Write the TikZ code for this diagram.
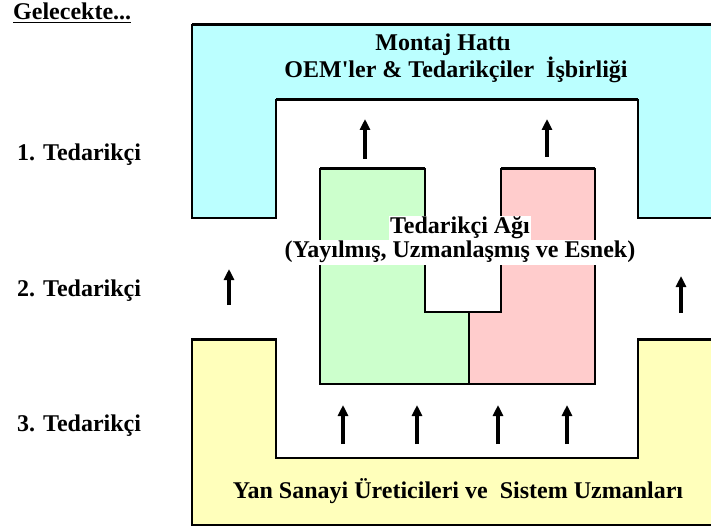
\documentclass[tikz,border=0pt]{standalone}
\usepackage{fontspec}
\setmainfont{Liberation Serif}[Ligatures=TeXOff]
\usetikzlibrary{arrows.meta}
\definecolor{cyanfill}{RGB}{187,255,255}
\definecolor{greenfill}{RGB}{204,255,204}
\definecolor{redfill}{RGB}{255,204,204}
\definecolor{yellowfill}{RGB}{255,255,187}
\begin{document}
\begin{tikzpicture}[x=1bp,y=-1bp,
  txt/.style={font=\fontsize{24bp}{28bp}\selectfont\bfseries, inner sep=0pt},
  outline/.style={draw=black, line width=1.5bp, line join=miter},
  rim/.style={line width=3bp},
  up/.style={line width=3.5bp, -{Triangle[width=10bp,length=11bp]}}
]
\useasboundingbox (0,0) rectangle (711,528);

% assembly line block (top)
\draw[outline, fill=cyanfill] (192,25) -- (716,25) -- (716,218) -- (638,218)
  -- (638,100) -- (276,100) -- (276,218) -- (192,218) -- cycle;
\draw[rim] (192,25) -- (716,25);
\draw[rim] (276,100) -- (638,100);

% sub-industry block (bottom)
\draw[outline, fill=yellowfill] (192,339) -- (276,339) -- (276,458) -- (638,458)
  -- (638,339) -- (716,339) -- (716,525) -- (192,525) -- cycle;
\draw[rim] (192,339) -- (276,339);
\draw[rim] (638,339) -- (716,339);

% supplier network (two interlocking parts)
\draw[outline, fill=greenfill] (320,169) -- (425,169) -- (425,312) -- (469,312)
  -- (469,384) -- (320,384) -- cycle;
\draw[outline, fill=redfill] (501,169) -- (595,169) -- (595,384) -- (469,384)
  -- (469,312) -- (501,312) -- cycle;
\draw[rim] (320,169) -- (425,169);
\draw[rim] (501,169) -- (595,169);

% texts
\node[txt, anchor=base west] (future) at (13,20) {\underline{Gelecekte...}};
\node[txt, anchor=base] (asm1) at (443,51) {Montaj Hattı};
\node[txt, anchor=base] (asm2) at (456,78) {OEM'ler \& Tedarikçiler\ \ İşbirliği};
\node[txt, anchor=base, fill=white, inner sep=1.5bp] (net1) at (460,234) {Tedarikçi Ağı};
\node[txt, anchor=base, fill=white, inner sep=1.5bp] (net2) at (460,258) {(Yayılmış, Uzmanlaşmış ve Esnek)};
\node[txt, anchor=base] (sub) at (458,498) {Yan Sanayi Üreticileri ve\ \ Sistem Uzmanları};
\node[txt, anchor=base west] (tier1) at (17,161) {1. Tedarikçi};
\node[txt, anchor=base west] (tier2) at (17,296) {2. Tedarikçi};
\node[txt, anchor=base west] (tier3) at (17,431) {3. Tedarikçi};

% upward flow arrows
\coordinate (t1s) at (365,159); \coordinate (t1e) at (365,119);
\coordinate (t2s) at (547,157); \coordinate (t2e) at (547,119);
\coordinate (s1s) at (229,305); \coordinate (s1e) at (229,269);
\coordinate (s2s) at (681,313); \coordinate (s2e) at (681,276);
\coordinate (b1s) at (343,444); \coordinate (b1e) at (343,405);
\coordinate (b2s) at (417,444); \coordinate (b2e) at (417,405);
\coordinate (b3s) at (498,444); \coordinate (b3e) at (498,405);
\coordinate (b4s) at (567,444); \coordinate (b4e) at (567,405);
\foreach \a in {t1,t2,s1,s2,b1,b2,b3,b4}
  \draw[up] (\a s) -- (\a e);
\end{tikzpicture}
\end{document}
